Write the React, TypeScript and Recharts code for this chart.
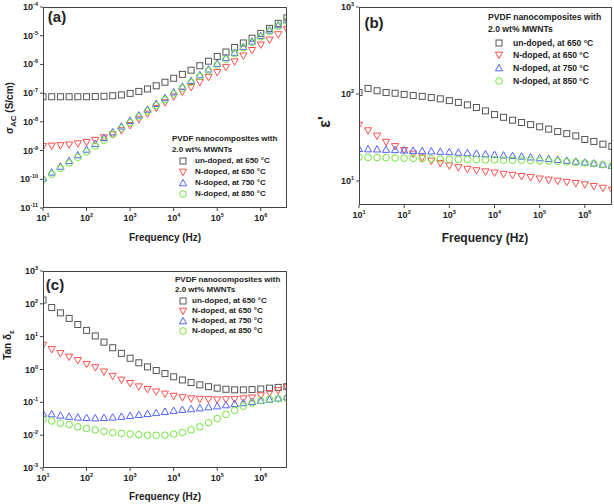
import React from "react";
import { ScatterChart, Scatter, XAxis, YAxis } from "recharts";

// frequency points (Hz), 5 per decade
const freq = [
  10, 15.85, 25.12, 39.81, 63.1, 100, 158.5, 251.2, 398.1, 631, 1000, 1585, 2512, 3981, 6310,
  1e4, 15850, 25120, 39810, 63100, 1e5, 158500, 251200, 398100, 631000, 1e6, 1585000, 2512000, 3981000,
];

// (a) AC conductivity (S/cm)
const sigmaUndoped650 = [
  7.5e-8, 7.5e-8, 7.5e-8, 7.5e-8, 7.5e-8, 7.5e-8, 7.6e-8, 7.8e-8, 8.1e-8, 8.7e-8, 9.8e-8, 1.15e-7, 1.4e-7, 1.8e-7, 2.4e-7,
  3.3e-7, 4.5e-7, 6.3e-7, 9e-7, 1.3e-6, 1.9e-6, 2.7e-6, 3.9e-6, 5.6e-6, 8.2e-6, 1.2e-5, 1.8e-5, 2.7e-5, 4.2e-5,
];
const sigmaN650 = [
  1.4e-9, 1.45e-9, 1.5e-9, 1.6e-9, 1.75e-9, 1.95e-9, 2.3e-9, 2.8e-9, 3.6e-9, 5e-9, 7.5e-9, 1.2e-8, 1.9e-8, 3e-8, 4.7e-8,
  7.5e-8, 1.1e-7, 1.6e-7, 2.4e-7, 3.6e-7, 5.3e-7, 8e-7, 1.25e-6, 2e-6, 3.1e-6, 4.8e-6, 7.2e-6, 1.1e-5, 1.65e-5,
];
const sigmaN750 = [
  1.1e-10, 1.75e-10, 2.8e-10, 4.4e-10, 7e-10, 1.1e-9, 1.75e-9, 2.8e-9, 4.4e-9, 7e-9, 1.1e-8, 1.7e-8, 2.7e-8, 4.3e-8, 6.8e-8,
  1.08e-7, 1.7e-7, 2.7e-7, 4.3e-7, 6.8e-7, 1.07e-6, 1.7e-6, 2.6e-6, 4.1e-6, 6.4e-6, 1e-5, 1.55e-5, 2.35e-5, 3.5e-5,
];
const sigmaN850 = [
  9.5e-11, 1.5e-10, 2.4e-10, 3.7e-10, 5.8e-10, 9e-10, 1.45e-9, 2.3e-9, 3.7e-9, 5.9e-9, 9.3e-9, 1.48e-8, 2.35e-8, 3.7e-8, 5.9e-8,
  9.3e-8, 1.48e-7, 2.35e-7, 3.8e-7, 6e-7, 9.6e-7, 1.52e-6, 2.4e-6, 3.8e-6, 5.9e-6, 9.2e-6, 1.42e-5, 2.15e-5, 3.2e-5,
];

// (b) dielectric constant
const epsUndoped650 = [
  104, 116, 109, 104, 102, 99, 96, 94, 91, 88, 84, 80, 75, 70, 64,
  58, 54, 50, 47, 44.5, 42, 39.5, 37, 35, 33, 30, 28.5, 26.5, 25,
];
const epsN650 = [
  44, 38, 33, 28, 25, 22.5, 20.5, 18.5, 17, 16, 15, 14.3, 13.7, 13.2, 12.8,
  12.4, 12, 11.7, 11.3, 11, 10.6, 10.3, 10, 9.7, 9.4, 9.1, 8.7, 8.3, 7.9,
];
const epsN750 = [
  23.5, 23.3, 23.2, 23, 22.8, 22.6, 22.4, 22.2, 22, 21.8, 21.6, 21.3, 21, 20.7, 20.4,
  20.1, 19.8, 19.5, 19.2, 18.8, 18.4, 18, 17.6, 17.2, 16.8, 16.4, 16, 15.5, 15,
];
const epsN850 = [
  18.8, 18.7, 18.6, 18.5, 18.4, 18.3, 18.2, 18.1, 18, 17.9, 17.8, 17.7, 17.7, 17.6, 17.5,
  17.5, 17.4, 17.3, 17.3, 17.2, 17.1, 17, 16.8, 16.6, 16.4, 16.1, 15.8, 15.4, 15,
];

// (c) loss tangent
const tanUndoped650 = [
  130, 77, 53, 36, 23.5, 15.5, 10.5, 6.8, 4.6, 3.1, 2.2, 1.6, 1.2, 0.93, 0.75,
  0.6, 0.48, 0.4, 0.34, 0.3, 0.27, 0.25, 0.24, 0.24, 0.245, 0.255, 0.27, 0.285, 0.3,
];
const tanN650 = [
  5.5, 4.1, 3.1, 2.4, 1.9, 1.45, 1.15, 0.85, 0.63, 0.48, 0.38, 0.3, 0.25, 0.21, 0.18,
  0.155, 0.14, 0.13, 0.125, 0.123, 0.12, 0.122, 0.125, 0.13, 0.138, 0.16, 0.19, 0.23, 0.29,
];
const tanN750 = [
  0.046, 0.044, 0.04, 0.037, 0.035, 0.034, 0.033, 0.034, 0.035, 0.037, 0.039, 0.042, 0.045, 0.048, 0.052,
  0.056, 0.06, 0.063, 0.067, 0.072, 0.077, 0.083, 0.09, 0.096, 0.104, 0.113, 0.123, 0.133, 0.145,
];
const tanN850 = [
  0.03, 0.027, 0.023, 0.021, 0.018, 0.016, 0.0145, 0.013, 0.012, 0.0113, 0.0108, 0.0103, 0.01, 0.0099, 0.01,
  0.0108, 0.012, 0.0145, 0.018, 0.024, 0.032, 0.043, 0.057, 0.076, 0.096, 0.113, 0.123, 0.128, 0.135,
];

const xTicks = [10, 100, 1000, 1e4, 1e5, 1e6];
const sigmaTicks = [1e-11, 1e-10, 1e-9, 1e-8, 1e-7, 1e-6, 1e-5, 1e-4];
const epsTicks = [10, 100, 1000];
const tanTicks = [1e-3, 1e-2, 1e-1, 1, 10, 100, 1000];

const legendTitle = ["PVDF nanocomposites with", "2.0 wt% MWNTs"];
const seriesNames = ["un-doped, at 650 °C", "N-doped, at 650 °C", "N-doped, at 750 °C", "N-doped, at 850 °C"];

const FONT = '"Liberation Sans", Arial, sans-serif';
const AXIS = "#444";
const GRAY = "#555555";
const RED = "#ff4d4d";
const BLUE = "#5060ff";
const GREEN = "#6fe63c";
const COLORS = [GRAY, RED, BLUE, GREEN];

const pts = (vals: number[]) => freq.map((f, i) => ({ f, v: vals[i] }));

const marker = (kind: number, cx: number, cy: number) => {
  const c = COLORS[kind];
  if (kind === 0) return <rect x={cx - 3} y={cy - 3} width={6} height={6} fill="none" stroke={c} strokeWidth={1} />;
  if (kind === 1)
    return <polygon points={`${cx - 3.6},${cy - 2.8} ${cx + 3.6},${cy - 2.8} ${cx},${cy + 3.6}`} fill="none" stroke={c} strokeWidth={1} />;
  if (kind === 2)
    return <polygon points={`${cx - 3.6},${cy + 2.8} ${cx + 3.6},${cy + 2.8} ${cx},${cy - 3.6}`} fill="none" stroke={c} strokeWidth={1} />;
  return <circle cx={cx} cy={cy} r={3.3} fill="none" stroke={c} strokeWidth={1} />;
};

const shapeFor = (kind: number) => (props: any) => marker(kind, props.cx, props.cy);

const expOf = (v: number) => Math.round(Math.log10(v));

const XTick = (props: any) => {
  const { x, y, payload } = props;
  return (
    <text x={x} y={y + 8} textAnchor="middle" fontFamily={FONT} fontWeight="bold" fontSize={9} fill="#222">
      10<tspan dy={-4} fontSize={5.5}>{expOf(payload.value)}</tspan>
    </text>
  );
};

const YTick = (props: any) => {
  const { x, y, payload } = props;
  return (
    <text x={x} y={y + 3} textAnchor="end" fontFamily={FONT} fontWeight="bold" fontSize={9} fill="#222">
      10<tspan dy={-4} fontSize={5.5}>{expOf(payload.value)}</tspan>
    </text>
  );
};

type PanelProps = {
  left: number;
  top: number;
  width: number;
  height: number;
  margin: { top: number; right: number; bottom: number; left: number };
  yWidth: number;
  xHeight: number;
  yDomain: [number, number];
  yTicks: number[];
  series: number[][];
};

const Panel = ({ left, top, width, height, margin, yWidth, xHeight, yDomain, yTicks, series }: PanelProps) => {
  const px = margin.left + yWidth;
  const py = margin.top;
  const pw = width - px - margin.right;
  const ph = height - margin.top - margin.bottom - xHeight;
  return (
    <div style={{ position: "absolute", left, top, width, height }}>
      <ScatterChart width={width} height={height} margin={margin}>
        <XAxis
          type="number"
          dataKey="f"
          scale="log"
          domain={[10, 4e6]}
          allowDataOverflow
          ticks={xTicks}
          interval={0}
          axisLine={false}
          tickSize={3}
          tickLine={{ stroke: AXIS }}
          height={xHeight}
          tick={<XTick />}
        />
        <YAxis
          type="number"
          dataKey="v"
          scale="log"
          domain={yDomain}
          allowDataOverflow
          ticks={yTicks}
          interval={0}
          axisLine={false}
          tickSize={3}
          tickLine={{ stroke: AXIS }}
          width={yWidth}
          tick={<YTick />}
        />
        {series.map((s, k) => (
          <Scatter key={k} data={pts(s)} shape={shapeFor(k)} isAnimationActive={false} />
        ))}
      </ScatterChart>
      <div
        style={{
          position: "absolute",
          left: px,
          top: py,
          width: pw,
          height: ph,
          border: `1px solid ${AXIS}`,
          boxSizing: "border-box",
          pointerEvents: "none",
        }}
      />
    </div>
  );
};

const Text = ({ x, y, size, children, anchor = "left", rotate = false }: any) => (
  <div
    style={{
      position: "absolute",
      left: x,
      top: y,
      transform: `translate(${anchor === "center" ? "-50%" : "0"}, -50%)${rotate ? " rotate(-90deg)" : ""}`,
      fontFamily: FONT,
      fontWeight: "bold",
      fontSize: size,
      lineHeight: 1,
      whiteSpace: "nowrap",
      color: "#222",
    }}
  >
    {children}
  </div>
);

const Legend = ({ x, titleYs, markerX, textX, rowYs, size }: any) => (
  <>
    {legendTitle.map((t, i) => (
      <Text key={t} x={x} y={titleYs[i]} size={size}>
        {t}
      </Text>
    ))}
    {seriesNames.map((n, k) => (
      <React.Fragment key={n}>
        <svg style={{ position: "absolute", left: markerX - 5, top: rowYs[k] - 5 }} width={10} height={10}>
          {marker(k, 5, 5)}
        </svg>
        <Text x={textX} y={rowYs[k]} size={size}>
          {n}
        </Text>
      </React.Fragment>
    ))}
  </>
);

export default function App() {
  return (
    <div style={{ position: "absolute", left: 0, top: 0, width: 614, height: 504, background: "#fff", overflow: "hidden" }}>
      <Panel
        left={0}
        top={0}
        width={300}
        height={250}
        margin={{ top: 7, right: 13, bottom: 12, left: 0 }}
        yWidth={43}
        xHeight={30}
        yDomain={[1e-11, 1e-4]}
        yTicks={sigmaTicks}
        series={[sigmaUndoped650, sigmaN650, sigmaN750, sigmaN850]}
      />
      <Panel
        left={300}
        top={0}
        width={314}
        height={250}
        margin={{ top: 7, right: 2, bottom: 15, left: 0 }}
        yWidth={59}
        xHeight={30}
        yDomain={[5.3, 1000]}
        yTicks={epsTicks}
        series={[epsUndoped650, epsN650, epsN750, epsN850]}
      />
      <Panel
        left={0}
        top={250}
        width={300}
        height={254}
        margin={{ top: 21, right: 13, bottom: 6, left: 0 }}
        yWidth={43}
        xHeight={30}
        yDomain={[1e-3, 1e3]}
        yTicks={tanTicks}
        series={[tanUndoped650, tanN650, tanN750, tanN850]}
      />

      <Text x={57} y={16} size={15} anchor="center">(a)</Text>
      <Text x={374} y={22} size={15} anchor="center">(b)</Text>
      <Text x={55} y={284} size={15} anchor="center">(c)</Text>

      <Text x={165} y={238} size={10} anchor="center">Frequency (Hz)</Text>
      <Text x={485} y={238} size={12} anchor="center">Frequency (Hz)</Text>
      <Text x={165} y={497} size={10} anchor="center">Frequency (Hz)</Text>

      <Text x={11} y={108} size={10} anchor="center" rotate>
        σ<sub style={{ fontSize: 8 }}>AC</sub> (S/cm)
      </Text>
      <Text x={325} y={122} size={16} anchor="center" rotate>
        ε'
      </Text>
      <Text x={9} y={345} size={10} anchor="center" rotate>
        Tan δ<sub style={{ fontSize: 8 }}>ε</sub>
      </Text>

      <Legend x={172} titleYs={[139, 150]} markerX={183} textX={195} rowYs={[161, 172, 183, 194]} size={8} />
      <Legend x={488} titleYs={[17, 29]} markerX={499} textX={513} rowYs={[43, 55, 68, 81]} size={8.6} />
      <Legend x={175} titleYs={[280, 290]} markerX={183} textX={192} rowYs={[301, 311, 321, 331]} size={8} />
    </div>
  );
}
